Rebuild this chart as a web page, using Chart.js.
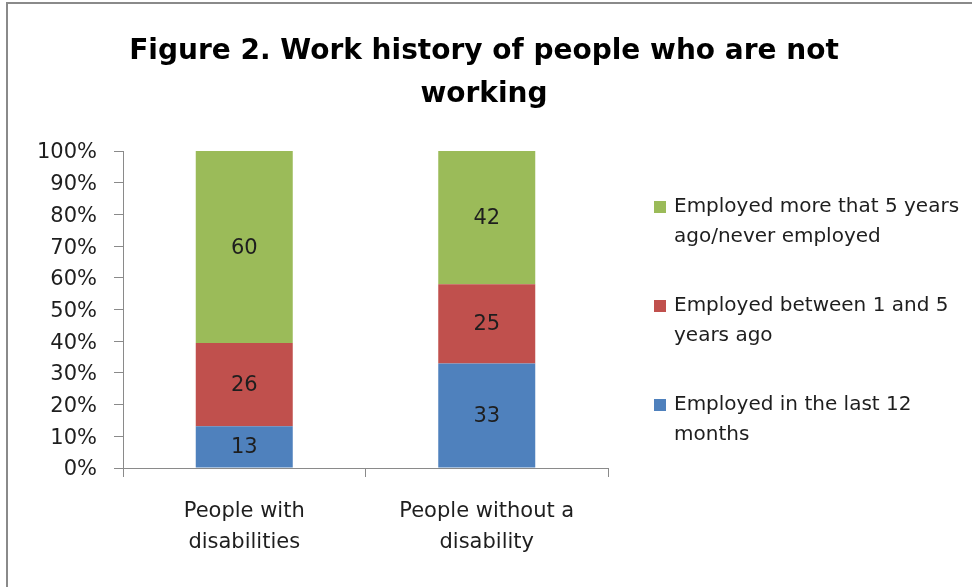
<!DOCTYPE html>
<html>
<head>
<meta charset="utf-8">
<script src="https://cdn.jsdelivr.net/npm/chart.js@4.4.1/dist/chart.umd.min.js"></script>
<style>
  html, body { margin: 0; padding: 0; background: #fff; overflow: hidden; }
  #frame {
    position: absolute; left: 6px; top: 2px; width: 2000px; height: 2000px;
    border-left: 2px solid #8a8a8a; border-top: 2px solid #8a8a8a;
  }
  #wrap { position: absolute; left: 0; top: 0; width: 972px; height: 587px; }
</style>
</head>
<body>
<div id="frame"></div>
<div id="wrap"><canvas id="chart" width="972" height="587"></canvas></div>
<script>
// Work history data (counts shown on each segment)
const categories = [['People with', 'disabilities'], ['People without a', 'disability']];
const seriesNames = [
  'Employed in the last 12 months',
  'Employed between 1 and 5 years ago',
  'Employed more that 5 years ago/never employed'
];
const legendLines = [
  ['Employed in the last 12', 'months'],
  ['Employed between 1 and 5', 'years ago'],
  ['Employed more that 5 years', 'ago/never employed']
];
const titleLines = ['Figure 2. Work history of people who are not', 'working'];
const lastYear = [13, 33];
const oneToFive = [26, 25];
const moreThanFive = [60, 42];
const seriesColors = ['#4F81BD', '#C0504D', '#9BBB59'];
const yTicks = [0, 10, 20, 30, 40, 50, 60, 70, 80, 90, 100];

const FONT = "'DejaVu Sans', sans-serif";
const TEXT = '#1e1e1e';
const AXIS = '#8a8a8a';

const rawSeries = [lastYear, oneToFive, moreThanFive];
// 100% stacking: each column is scaled to its own total
const totals = categories.map((_, i) => rawSeries.reduce((s, arr) => s + arr[i], 0));
const shareSeries = rawSeries.map(arr => arr.map((v, i) => v / totals[i] * 100));

// Title spans the whole canvas width, above the plot and the legend
const wideTitle = {
  id: 'wideTitle',
  afterDraw(chart) {
    const ctx = chart.ctx;
    ctx.save();
    ctx.font = 'bold 28px ' + FONT;
    ctx.fillStyle = '#000';
    ctx.textAlign = 'center';
    ctx.textBaseline = 'middle';
    titleLines.forEach((line, i) => ctx.fillText(line, 484, 52 + i * 43));
    ctx.restore();
  }
};

const segmentLabels = {
  id: 'segmentLabels',
  afterDatasetsDraw(chart) {
    const ctx = chart.ctx;
    ctx.save();
    ctx.font = '21px ' + FONT;
    ctx.fillStyle = TEXT;
    ctx.textAlign = 'center';
    ctx.textBaseline = 'middle';
    chart.data.datasets.forEach((ds, di) => {
      const meta = chart.getDatasetMeta(di);
      meta.data.forEach((bar, i) => {
        const yMid = (bar.y + bar.base) / 2;
        ctx.fillText(String(rawSeries[di][i]), bar.x, yMid + 1);
      });
    });
    ctx.restore();
  }
};

const sideLegend = {
  id: 'sideLegend',
  afterDraw(chart) {
    const ctx = chart.ctx;
    ctx.save();
    ctx.font = '20px ' + FONT;
    ctx.textBaseline = 'middle';
    ctx.textAlign = 'left';
    const order = [2, 1, 0];
    order.forEach((di, k) => {
      const y0 = 207 + k * 99;
      ctx.fillStyle = seriesColors[di];
      ctx.fillRect(654, y0 - 6, 12, 12);
      ctx.fillStyle = TEXT;
      legendLines[di].forEach((line, j) => {
        ctx.fillText(line, 674, y0 + j * 30);
      });
    });
    ctx.restore();
  }
};

new Chart(document.getElementById('chart'), {
  type: 'bar',
  data: {
    labels: categories,
    datasets: seriesNames.map((name, i) => ({
      label: name,
      data: shareSeries[i],
      backgroundColor: seriesColors[i],
      borderWidth: 0,
      categoryPercentage: 1,
      barPercentage: 0.4
    }))
  },
  options: {
    responsive: false,
    animation: false,
    layout: { padding: { left: 0, right: 364, top: 151, bottom: 0 } },
    plugins: {
      legend: { display: false },
      tooltip: { enabled: false },
      title: { display: false }
    },
    scales: {
      x: {
        stacked: true,
        offset: true,
        grid: { display: true, drawOnChartArea: false, tickLength: 9, color: AXIS, offset: true },
        border: { display: true, color: AXIS, width: 1 },
        ticks: {
          color: TEXT, padding: 19, maxRotation: 0,
          font: { family: FONT, size: 21, lineHeight: '31px' }
        },
        afterFit(scale) { scale.height = 119; }
      },
      y: {
        stacked: true,
        min: 0, max: 100,
        afterBuildTicks(scale) { scale.ticks = yTicks.map(v => ({ value: v })); },
        grid: { display: true, drawOnChartArea: false, tickLength: 9, color: AXIS },
        border: { display: true, color: AXIS, width: 1 },
        ticks: {
          color: TEXT, padding: 17, labelOffset: 2,
          font: { family: FONT, size: 21 },
          callback: v => v + '%'
        },
        afterFit(scale) { scale.width = 123; }
      }
    }
  },
  plugins: [segmentLabels, sideLegend, wideTitle]
});
</script>
</body>
</html>
